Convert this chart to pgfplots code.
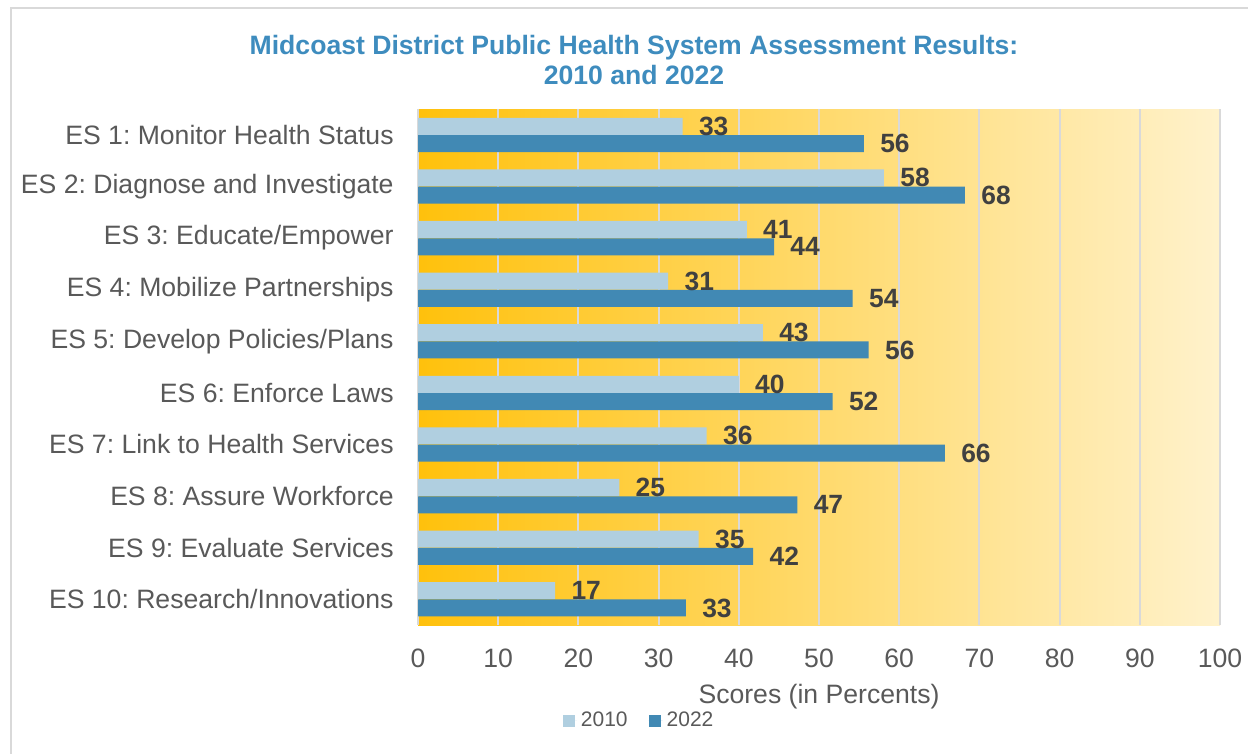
\documentclass[border=0pt]{standalone}
\usepackage{fontspec}
\setmainfont{Liberation Sans}
\usepackage{pgfplots}
\pgfplotsset{compat=1.18}
\frenchspacing
\definecolor{c2010}{RGB}{176,207,224}
\definecolor{c2022}{RGB}{65,137,180}
\definecolor{titleblue}{RGB}{62,140,190}
\definecolor{labelgray}{RGB}{64,64,64}
\definecolor{tickgray}{RGB}{89,89,89}
\definecolor{gridgray}{RGB}{217,217,217}
\definecolor{bgleft}{RGB}{255,193,12}
\definecolor{bgright}{RGB}{255,242,204}
\begin{document}
\begin{tikzpicture}
\useasboundingbox (0pt,0pt) rectangle (624pt,377pt);
\draw[color=gridgray, line width=1pt] (5.5pt,0pt) -- (5.5pt,373pt) -- (624pt,373pt);
\node[font=\fontsize{13.3}{15}\selectfont\bfseries, text=titleblue, align=center] at (317pt,347pt)
  {Midcoast District Public Health System Assessment Results:\\2010 and 2022};
\begin{axis}[
  at={(209pt,64.5pt)}, anchor=south west,
  width=401pt, height=258pt, scale only axis,
  xmin=0, xmax=100, ymin=-0.5, ymax=9.5,
  y dir=reverse,
  xtick={0,10,...,100},
  ytick={0,...,9},
  yticklabels={ES 1: Monitor Health Status, ES 2: Diagnose and Investigate, ES 3: Educate/Empower, ES 4: Mobilize Partnerships, ES 5: Develop Policies/Plans, ES 6: Enforce Laws, ES 7: Link to Health Services, ES 8: Assure Workforce, ES 9: Evaluate Services, ES 10: Research/Innovations},
  xmajorgrids,
  grid style={color=gridgray, line width=1pt},
  axis line style={draw=none},
  major tick length=0pt,
  axis background/.style={left color=bgleft, right color=bgright},
  /pgf/number format/assume math mode=true,
  ticklabel style={font=\fontsize{13.3}{15}\selectfont, text=tickgray},
  yticklabel style={inner sep=0pt, xshift=-12pt},
  xticklabel style={inner sep=0pt, yshift=-12pt},
  xlabel={Scores (in Percents)},
  xlabel style={at={(axis description cs:0.5,-0.138)}, anchor=center, font=\fontsize{13.3}{15}\selectfont, text=tickgray},
  legend columns=2,
  legend style={at={(0.277,-0.186)}, anchor=center, draw=none, fill=none,
    font=\fontsize{10.5}{12}\selectfont, text=tickgray,
    /tikz/every even column/.append style={column sep=8.5pt},
    inner sep=0pt},
  nodes near coords align={horizontal},
  every node near coord/.append style={font=\fontsize{13.2}{15}\selectfont\bfseries, text=labelgray, anchor=west, inner sep=0pt, xshift=8pt},
]
\addplot[xbar, bar width=0.33, bar shift=0pt, fill=c2010, draw=none,
  nodes near coords, point meta=explicit symbolic,
  legend image code/.code={\fill[c2010] (0pt,-3pt) rectangle (6pt,3pt); \path (0pt,0pt) -- (7pt,0pt);}]
  coordinates {
  (33.0,-0.165) [33]
  (58.1,0.835) [58]
  (41.0,1.835) [41]
  (31.2,2.835) [31]
  (43.0,3.835) [43]
  (40.0,4.835) [40]
  (36.0,5.835) [36]
  (25.1,6.835) [25]
  (35.0,7.835) [35]
  (17.1,8.835) [17]
  };
\addlegendentry{2010}
\addplot[xbar, bar width=0.33, bar shift=0pt, fill=c2022, draw=none,
  nodes near coords, point meta=explicit symbolic,
  legend image code/.code={\fill[c2022] (0pt,-3pt) rectangle (6pt,3pt); \path (0pt,0pt) -- (7pt,0pt);}]
  coordinates {
  (55.6,0.17) [56]
  (68.2,1.17) [68]
  (44.4,2.17) [44]
  (54.2,3.17) [54]
  (56.2,4.17) [56]
  (51.7,5.17) [52]
  (65.7,6.17) [66]
  (47.3,7.17) [47]
  (41.8,8.17) [42]
  (33.4,9.17) [33]
  };
\addlegendentry{2022}
\end{axis}
\end{tikzpicture}
\end{document}
